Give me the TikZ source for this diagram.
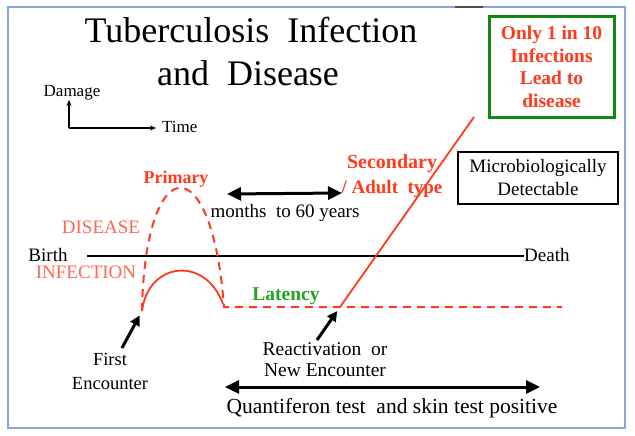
\documentclass[tikz,border=0pt]{standalone}
\usepackage{fontspec}
\setmainfont{Liberation Serif}
\usetikzlibrary{arrows.meta}
\definecolor{tbred}{HTML}{FF3A1E}
\definecolor{softred}{HTML}{FF6655}
\definecolor{latgreen}{HTML}{23A323}
\definecolor{boxgreen}{HTML}{128712}
\definecolor{frameblue}{HTML}{86A8D8}
\newcommand{\fsz}[2]{\fontsize{#1}{#2}\selectfont}
\begin{document}
\begin{tikzpicture}[x=1pt,y=-1pt,every node/.style={inner sep=0pt},lbl/.style={font=\fsz{19}{21}},redtxt/.style={font=\fsz{19}{22}\bfseries,text=tbred},capred/.style={font=\fsz{19}{22},text=softred},redline/.style={tbred,line width=1.8pt},dashline/.style={tbred,line width=2pt,dash pattern=on 8pt off 6pt},spanarrow/.style={line width=3pt,{Triangle[length=14pt,width=13pt]}-{Triangle[length=14pt,width=13pt]}},pointarrow/.style={line width=3pt,-{Triangle[length=10pt,width=10pt]},shorten >=5pt},axisarrow/.style={line width=1.3pt,-{Stealth[length=6pt,width=5pt]}}]
\fill[white] (0,0) rectangle (635,436);
\draw[frameblue,line width=1.5pt] (8,7) rectangle (625,428);
\draw[gray!60!black,line width=2pt] (455,7)--(483,7);
% title and axes key
\node[font=\fsz{36}{40},anchor=base] (title) at (251,43){Tuberculosis\ \ Infection};
\node[font=\fsz{36}{40},anchor=base] (title2) at (248,85){and\ \ Disease};
\node[lbl,font=\fsz{17}{21},anchor=base] (damage) at (72,96){Damage};
\node[lbl,font=\fsz{17}{21},anchor=base west] (time) at (162,132){Time};
\coordinate (origin) at (69,128);
\draw[axisarrow] (origin)--(origin |- damage.south);
\draw[axisarrow] (origin)--([xshift=-6pt]time.west |- origin);
% life line
\node[lbl,anchor=base] (birth) at (48,261){Birth};
\node[lbl,anchor=base west] (death) at (524,261){Death};
\coordinate (lifestart) at (87,256);
\draw[line width=1.6pt] (lifestart)--(lifestart -| death.west);
% curves
\coordinate (enc) at (142,311);\coordinate (lat) at (224,307);\coordinate (react) at (340,307);\coordinate (latend) at (562,307);\coordinate (sectop) at (474,117);
\draw[dashline] (enc) .. controls (145,150) and (212,145) .. (lat)--(latend);
\draw[redline] (enc) .. controls (148,262) and (205,255) .. (223,304);
\draw[redline] (react)--(sectop);
\node[redtxt,font=\fsz{18}{22}\bfseries,anchor=base] (primary) at (176,183){Primary};
\node[capred,anchor=base] (disease) at (101,233){DISEASE};
\node[capred,anchor=base] (infection) at (86,278){INFECTION};
\node[font=\fsz{19.5}{21}\bfseries,text=latgreen,anchor=base] (latency) at (286,300){Latency};
\node[redtxt,font=\fsz{20}{22}\bfseries,anchor=base] (secondary) at (392,168){Secondary};
\node[redtxt,anchor=base] (adult) at (392,193){/ Adult\ \ type};
% boxes
\node[draw=boxgreen,line width=3pt,minimum width=125pt,minimum height=100pt,align=center,font=\fsz{19.5}{22.5}\bfseries,text=tbred] (onein) at (551.5,67){Only 1 in 10\\Infections\\Lead to\\disease};
\node[draw,line width=1.6pt,minimum width=160pt,minimum height=52pt,align=center,font=\fsz{19}{23}] (micro) at (538,178){Microbiologically\\Detectable};
% encounters
\node[lbl,align=center,font=\fsz{18.5}{24}] (first) at (110,371){First\\Encounter};
\node[lbl,align=center,font=\fsz{19.5}{21}] (reactnote) at (325,360){Reactivation\ \ or\\New Encounter};
\coordinate (enctail) at (122,348);\coordinate (reacttail) at (317,340);
\draw[pointarrow] (enctail)--(enc);
\draw[pointarrow] (reacttail)--(react);
% spans
\coordinate (mleft) at (227,194);\coordinate (mright) at (342,193);
\draw[spanarrow] (mleft)--(mright);
\node[lbl,anchor=base] (months) at (285,217){months\ \ to\ 60 years};
\coordinate (qleft) at (225,387);\coordinate (qright) at (540,387);
\draw[spanarrow] (qleft)--(qright);
\node[lbl,font=\fsz{21.5}{22},anchor=base] (quant) at (392,413){Quantiferon test\ \ and skin test positive};
\end{tikzpicture}
\end{document}
